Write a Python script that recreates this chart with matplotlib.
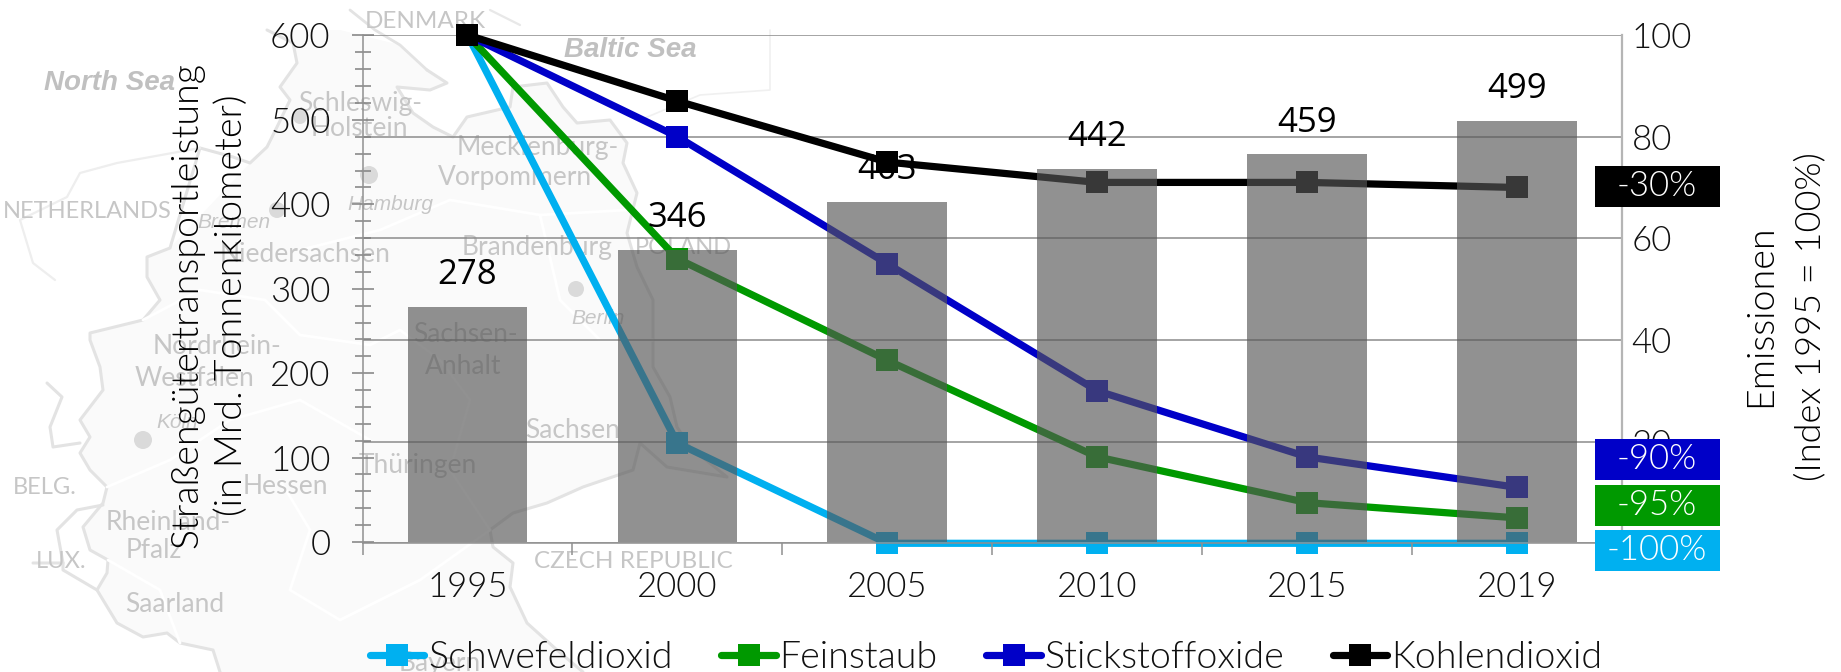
import matplotlib
matplotlib.use("Agg")
import matplotlib.pyplot as plt
from matplotlib.patches import Polygon, Rectangle, Circle
from matplotlib.ticker import MultipleLocator, NullFormatter
from matplotlib.lines import Line2D

years = ["1995", "2000", "2005", "2010", "2015", "2019"]
transport = [278, 346, 403, 442, 459, 499]
schwefeldioxid = [100, 19.7, 0, 0, 0, 0]
feinstaub = [100, 56, 36, 17, 8, 5]
stickstoffoxide = [100, 80, 55, 30, 17, 11]
kohlendioxid = [100, 87, 75, 71, 71, 70]
series_names = ["Schwefeldioxid", "Feinstaub", "Stickstoffoxide", "Kohlendioxid"]
series_colors = ["#00B0F0", "#009900", "#0000C8", "#000000"]
end_labels = ["-100%", "-95%", "-90%", "-30%"]

W, H = 1841, 672
FONT = "Lato"
LIGHT = 300
plt.rcParams["font.family"] = [FONT, "DejaVu Sans"]
fig = plt.figure(figsize=(W / 100, H / 100), dpi=100, facecolor="white")

# ---------- faint background map, in figure pixels ----------
bg = fig.add_axes([0, 0, 1, 1], zorder=0)
bg.set_xlim(0, W); bg.set_ylim(H, 0); bg.axis("off")
land_w = [(267,30),(293,43),(297,63),(280,87),(290,100),(277,127),(267,147),(250,163),(233,157),(200,148),
          (170,248),(147,257),(147,277),(160,300),(143,320),(90,333),(90,340),(100,367),(103,390),(80,420),
          (90,437),(80,453),(90,470),(107,487),(103,503),(83,527),(90,550),(108,560),(107,573),(97,590),
          (117,623),(143,637),(167,633),(180,643),(213,650),(220,672)]
land_e = [(427,70),(447,83),(430,90),(397,87),(413,113),(433,127),(453,137),(467,117),(510,107),(513,87),
          (547,83),(563,107),(577,123),(610,120),(627,143),(623,163),(637,193),(627,233),(637,267),(653,300),
          (653,340),(653,367),(670,397),(677,427),(690,447),(727,477),(667,467),(640,443),(633,470),(583,487),
          (547,503),(513,513),(490,530),(493,547),(513,563),(510,587),(527,623),(557,650),(583,672)]
land = land_w[:8] + land_w[10:] + land_e[::-1] + [(400,45),(340,30)]
bg.add_patch(Polygon(land, closed=True, fc="#fafafa", ec="none"))
border = "#e3e3e3"
def path(pts, lw=2.2, c=border):
    bg.plot(*zip(*pts), color=c, lw=lw, solid_capstyle="round", solid_joinstyle="round")
path(land_w); path(land_e)
path([(200,148),(117,163),(80,173),(67,197),(20,220),(33,263),(55,280)], 1.6, "#eeeeee")
path([(47,383),(62,397),(50,427),(53,447),(80,443)])
path([(103,505),(77,510),(57,530),(63,563),(33,563)]); path([(63,563),(63,570),(97,590)])
path([(350,10),(375,30),(400,45),(427,70)], 2.0)
path([(490,10),(520,25)], 1.6, "#e8e8e8")
path([(640,120),(700,95),(770,90),(770,30)], 1.2, "#f0f0f0")
for pts in ([(143,320),(200,290),(265,300),(300,335),(370,345),(400,330)],
            [(400,330),(440,360),(470,400),(450,470),(490,530)],
            [(107,487),(170,460),(230,420),(300,400),(370,440)],
            [(280,480),(310,530),(290,590),(340,620),(420,580),(490,530)],
            [(300,250),(380,230),(450,200),(540,215),(627,210)],
            [(540,215),(560,300),(600,340),(653,340)],
            [(180,643),(160,590),(108,560)]):
    path(pts, 2.0, "#ffffff")
for cx, cy, r in [(369,175,9),(277,210,8),(143,440,9),(576,289,8),(300,117,7)]:
    bg.add_patch(Circle((cx, cy), r, fc="#dadada", ec="none"))
mc = "#c6c6c6"
ital = dict(style="italic", family="Liberation Sans")
for s, x, y, fs, kw in [
    ("North Sea",110,83,20,dict(style="italic",weight="bold",family="Liberation Sans",color="#c0c0c0")),
    ("Baltic Sea",630,50,20,dict(style="italic",weight="bold",family="Liberation Sans",color="#c0c0c0")),
    ("DENMARK",425,21,17.5,{}),("NETHERLANDS",87,211,17,{}),("Bremen",234,223,15,ital),
    ("Niedersachsen",305,254,19,{}),("Schleswig-",360,103,19,{}),("Holstein",359,129,19,{}),
    ("Hamburg",390,204,15,ital),("Mecklenburg-",538,148,19,{}),("Vorpommern",515,178,19,{}),
    ("Brandenburg",537,248,19,{}),("POLAND",683,248,17,{}),("Berlin",598,318,15,ital),
    ("Sachsen-",465,335,19,{}),("Anhalt",463,367,19,{}),("Sachsen",573,430,19,{}),("Thüringen",418,465,19,{}),
    ("CZECH REPUBLIC",633,562,17.5,{}),("Nordrhein-",217,347,19,{}),("Westfalen",194,378,19,{}),
    ("Köln",177,423,15,ital),("BELG.",45,488,17,{}),("Hessen",285,487,19,{}),
    ("Rheinland-",168,522,19,{}),("Pfalz",154,550,19,{}),("LUX.",61,562,17,{}),("Saarland",175,604,19,{}),
    ("Bayern",440,663,19,{})]:
    bg.text(x, y, s, ha="center", va="center", fontsize=fs, **{"color": mc, **kw})

# ---------- axes ----------
L, R, T, B = 362.5, 1622, 35, 543.3
rect = [L / W, 1 - B / H, (R - L) / W, (B - T) / H]
ax_line = fig.add_axes(rect, zorder=1)
ax_bar = fig.add_axes(rect, zorder=2)
for a in (ax_line, ax_bar):
    a.patch.set_visible(False)
    a.set_xlim(-0.5, 5.5)

x = list(range(len(years)))
ax_line.set_ylim(0, 100)
ax_line.yaxis.tick_right()
ax_line.set_yticks(range(0, 101, 20))
ax_line.tick_params(axis="y", length=0, pad=7, labelsize=25, labelcolor="#111111")
ax_line.tick_params(axis="x", length=0, labelbottom=False)
ax_line.grid(axis="y", color="#8c8c8c", lw=1.1)
ax_line.set_axisbelow(True)
for side, sp in ax_line.spines.items():
    sp.set_visible(side == "right")
ax_line.spines["right"].set(color="#b5b5b5", lw=1.6)
for lab in ax_line.get_yticklabels():
    lab.set_fontweight(LIGHT)

handles = []
for vals, c, name in zip([schwefeldioxid, feinstaub, stickstoffoxide, kohlendioxid], series_colors, series_names):
    ax_line.plot(x, vals, color=c, lw=5.2, marker="s", ms=16.5, mew=0, clip_on=False,
                 solid_joinstyle="miter", solid_capstyle="butt")
    handles.append(Line2D([0], [0], color=c, lw=5.2, marker="s", ms=16.5, mew=0,
                          solid_capstyle="round", label=name))

bars = ax_bar.bar(x, transport, width=0.57, color="#575757", alpha=0.655, lw=0)
ax_bar.set_ylim(-1.5, 600.5)
for xi, v in zip(x, transport):
    ax_bar.annotate(str(v), (xi, v), xytext=(0, 23), textcoords="offset points", ha="center", va="center",
                    fontsize=25, family="Open Sans", color="black")
ax_bar.yaxis.set_major_locator(MultipleLocator(100))
ax_bar.yaxis.set_minor_locator(MultipleLocator(20))
ax_bar.yaxis.set_minor_formatter(NullFormatter())
ax_bar.tick_params(axis="y", which="major", direction="inout", length=16, width=1.1, color="#808080",
                   pad=15, labelsize=25, labelcolor="#111111")
ax_bar.tick_params(axis="y", which="minor", direction="inout", length=11.5, width=1.1, color="#808080")
ax_bar.set_xticks([i - 0.5 for i in range(len(years) + 1)])
ax_bar.set_xticklabels([])
ax_bar.set_xticks(x, minor=True)
ax_bar.set_xticklabels(years, minor=True)
ax_bar.tick_params(axis="x", which="major", direction="out", length=8.5, width=1.1, color="#909090")
ax_bar.tick_params(axis="x", which="minor", length=0, pad=20, labelsize=25, labelcolor="#111111")
for lab in ax_bar.get_yticklabels() + ax_bar.get_xticklabels(minor=True):
    lab.set_fontweight(LIGHT)
for side, sp in ax_bar.spines.items():
    sp.set_visible(side in ("left", "bottom"))
    sp.set(color="#909090", lw=1.1)

# ---------- figure-level text ----------
def ftext(px, py, s, **kw):
    return fig.text(px / W, 1 - py / H, s, ha="center", va="center", **kw)

ftext(187, 305, "Straßengütertransportleistung", rotation=90, fontsize=27, fontweight=LIGHT, color="black")
ftext(232, 305, "(in Mrd. Tonnenkilometer)", rotation=90, fontsize=27, fontweight=LIGHT, color="black")
ftext(1761, 316, "Emissionen", rotation=90, fontsize=27, fontweight=LIGHT, color="black")
ftext(1810, 317, "(Index 1995 = 100%)", rotation=90, fontsize=26, fontweight=LIGHT, color="black")

box_tops = [530, 485, 439, 166]
for top, c, s in zip(box_tops, series_colors, end_labels):
    fig.add_artist(Rectangle((1595 / W, 1 - (top + 41) / H), 125 / W, 41 / H, transform=fig.transFigure,
                             fc=c, ec="none", zorder=5))
    ftext(1657, top + 20, s, fontsize=25, color="white", fontweight=LIGHT, zorder=6)

leg = fig.legend(handles=handles, loc="lower left", bbox_to_anchor=(370 / W, -3 / H), ncol=4, frameon=False,
                 fontsize=27, handlelength=1.45, handletextpad=0.1, columnspacing=1.3, borderaxespad=0, borderpad=0)
for t in leg.get_texts():
    t.set_fontweight(LIGHT)
    t.set_color("#111111")

fig.savefig("out.png", dpi=100)
